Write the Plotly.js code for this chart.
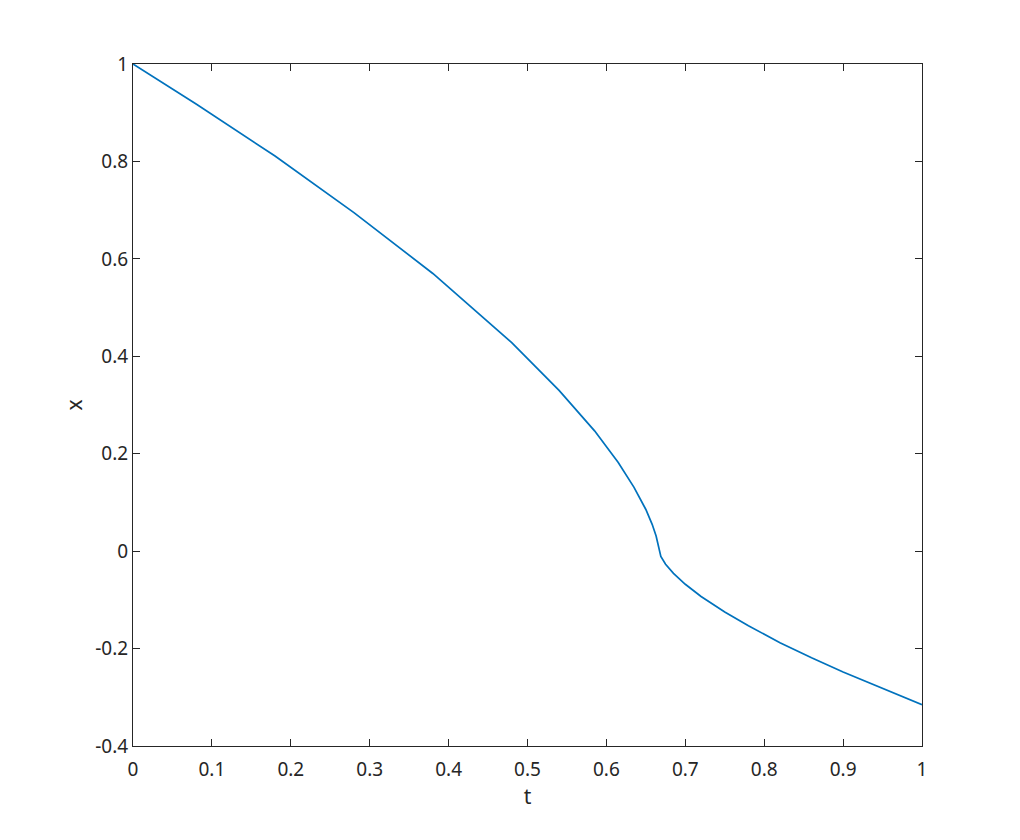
<!DOCTYPE html>
<html>
<head>
<meta charset="utf-8">
<script src="https://cdn.plot.ly/plotly-3.0.1.min.js"></script>
<style>body{margin:0;padding:0;background:#fff;}#plot{width:1020px;height:840px;}</style>
</head>
<body>
<div id="plot"></div>
<script>
// Values
const tValues = [0, 0.08, 0.18, 0.28, 0.38, 0.48, 0.54, 0.585, 0.615, 0.635, 0.650, 0.658, 0.663, 0.666, 0.667,
                 0.669, 0.675, 0.685, 0.70, 0.72, 0.75, 0.78, 0.82, 0.86, 0.90, 0.95, 1.0];
const xValues = [1, 0.918, 0.811, 0.695, 0.570, 0.428, 0.330, 0.247, 0.182, 0.131, 0.0855, 0.055, 0.031, 0.010, -0.003,
                 -0.011, -0.027, -0.0455, -0.068, -0.093, -0.125, -0.153, -0.188, -0.219, -0.248, -0.282, -0.315];
const xTickVals = [0, 0.1, 0.2, 0.3, 0.4, 0.5, 0.6, 0.7, 0.8, 0.9, 1];
const xTickText = ['0', '0.1', '0.2', '0.3', '0.4', '0.5', '0.6', '0.7', '0.8', '0.9', '1'];
const yTickVals = [-0.4, -0.2, 0, 0.2, 0.4, 0.6, 0.8, 1];
const yTickText = ['-0.4', '-0.2', '0', '0.2', '0.4', '0.6', '0.8', '1'];

const axisCommon = {
  showline: true, linecolor: '#262626', linewidth: 1, mirror: 'ticks',
  ticks: 'inside', ticklen: 7, tickcolor: '#262626', tickwidth: 1,
  showgrid: false, zeroline: false,
  tickfont: {family: 'Noto Sans, sans-serif', size: 19, color: '#262626'},
  tickmode: 'array'
};

const trace = {
  x: tValues, y: xValues, type: 'scatter', mode: 'lines',
  line: {color: '#0072BD', width: 1.7}, showlegend: false, hoverinfo: 'skip'
};

const layout = {
  width: 1020, height: 840,
  margin: {l: 132.5, r: 97.5, t: 63.5, b: 93.5, pad: 0},
  paper_bgcolor: '#ffffff', plot_bgcolor: '#ffffff',
  font: {family: 'Noto Sans, sans-serif', color: '#262626'},
  xaxis: Object.assign({}, axisCommon, {
    range: [0, 1], tickvals: xTickVals, ticktext: xTickText, ticklabelstandoff: 6,
    title: {text: 't', font: {size: 21, color: '#262626'}, standoff: 6}
  }),
  yaxis: Object.assign({}, axisCommon, {
    range: [-0.4, 1], tickvals: yTickVals, ticktext: yTickText,
    title: {text: 'x', font: {size: 21, color: '#262626'}, standoff: 6}
  })
};

Plotly.newPlot('plot', [trace], layout, {displayModeBar: false, staticPlot: true});
</script>
</body>
</html>
